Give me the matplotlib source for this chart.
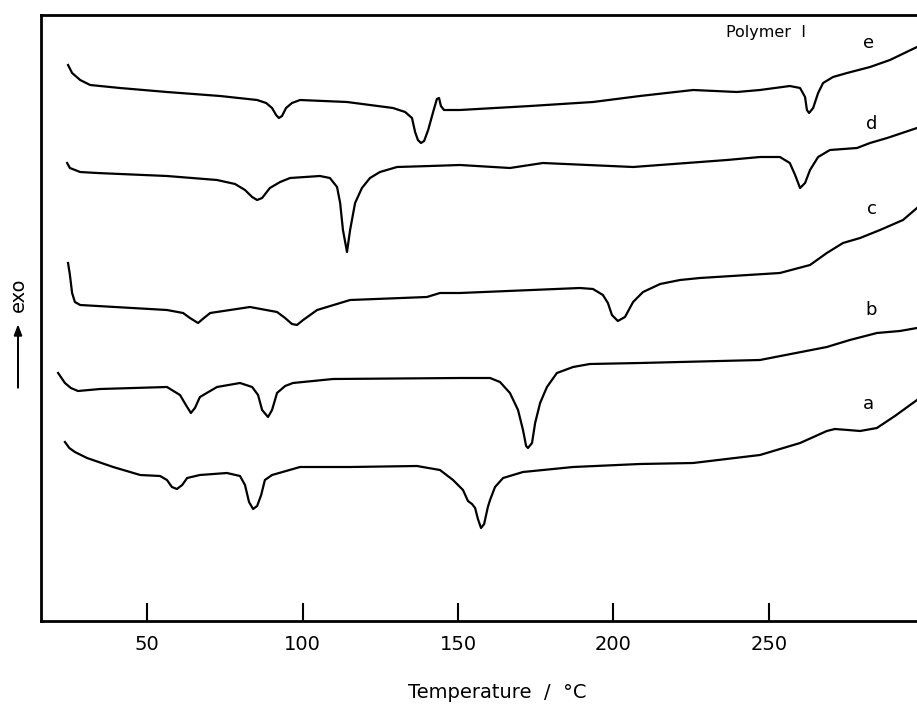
import numpy as np
import matplotlib
matplotlib.use('Agg')
import matplotlib.pyplot as plt

# DSC curves of Polymer I (temperature in °C, signal in arbitrary units)
T_a = [23.6, 25.0, 26.8, 30.7, 39.1, 47.8, 54.2, 56.4, 58.0, 59.6, 61.3, 62.9, 67.0, 75.7, 79.9, 81.5, 82.8,
       84.1, 85.4, 86.7, 87.9, 90.2, 99.2, 115.3, 136.8, 144.2, 148.4, 151.6, 153.2, 154.5, 155.5, 156.4,
       157.4, 158.4, 159.6, 160.3, 161.9, 164.5, 170.9, 187.0, 208.5, 225.6, 247.1, 260.0, 268.6, 271.2,
       275.4, 279.3, 284.7, 290.5, 297.6]
s_a = [179, 173, 169, 163, 154, 146, 145, 141, 134, 132, 136, 143, 146, 148, 145, 136, 119,
       112, 115, 126, 141, 146, 154, 154, 155, 151, 141, 131, 120, 117, 113, 102,
       93, 97, 114, 121, 134, 143, 149, 154, 157, 158, 166, 178, 190, 192,
       191, 190, 193, 205, 221]

T_b = [21.4, 23.6, 25.5, 27.8, 34.9, 56.4, 60.6, 62.5, 64.1, 65.4, 67.0, 72.5, 79.9, 83.8, 85.7, 87.0, 88.9,
       90.2, 91.8, 94.4, 96.9, 109.8, 150.6, 160.3, 163.5, 166.7, 169.3, 170.9, 171.9, 172.5, 173.8,
       174.8, 176.4, 178.6, 181.8, 187.0, 192.4, 208.5, 247.1, 268.6, 276.0, 284.7, 292.1, 297.6]
s_b = [248, 238, 233, 230, 232, 234, 226, 216, 208, 213, 224, 234, 238, 234, 226, 211, 204,
       211, 228, 235, 238, 242, 243, 243, 239, 228, 211, 191, 175, 173, 178,
       198, 218, 234, 248, 254, 257, 258, 261, 274, 281, 288, 290, 293]

T_c = [24.6, 25.2, 25.9, 26.8, 28.5, 56.4, 61.6, 63.8, 66.4, 68.3, 70.3, 83.1, 91.8, 94.4, 96.6, 98.2,
       100.2, 104.7, 115.3, 140.0, 144.2, 150.6, 189.2, 193.4, 196.6, 198.2, 199.5, 201.4, 203.7, 206.3,
       209.5, 215.0, 221.4, 227.8, 253.5, 263.2, 268.6, 273.8, 279.3, 285.7, 293.1, 297.6]
s_c = [358, 346, 328, 319, 316, 311, 308, 303, 298, 303, 308, 314, 309, 303, 297, 296,
       301, 311, 321, 324, 328, 328, 333, 332, 326, 318, 306, 300, 304, 319,
       329, 337, 341, 343, 348, 356, 368, 378, 383, 391, 401, 413]

T_d = [24.3, 25.2, 28.5, 33.9, 56.4, 72.5, 78.3, 81.5, 83.8, 85.4, 87.0, 89.5, 92.8, 96.0, 105.6, 108.8,
       111.1, 112.1, 113.0, 114.3, 115.3, 116.9, 119.1, 121.7, 124.9, 130.4, 141.0, 150.6, 166.7,
       177.3, 206.3, 236.5, 247.1, 253.5, 256.7, 258.4, 260.0, 261.6, 263.2, 265.8, 269.6, 278.3, 282.5,
       288.0, 297.6]
s_d = [458, 453, 449, 448, 445, 441, 437, 431, 424, 421, 423, 433, 439, 443, 445, 443,
       434, 418, 391, 369, 391, 418, 433, 443, 449, 454, 455, 456, 453,
       458, 454, 461, 464, 464, 458, 446, 433, 438, 451, 464, 471, 473, 478,
       483, 493]

T_e = [24.6, 25.9, 28.5, 31.7, 41.3, 56.4, 73.5, 85.4, 88.3, 90.2, 91.5, 92.4, 93.4, 94.7, 96.6, 99.2,
       114.3, 129.1, 133.0, 135.2, 136.2, 137.1, 138.1, 139.1, 140.4, 142.0, 143.2, 143.9, 144.5, 145.5,
       150.6, 173.2, 193.4, 208.5, 225.6, 239.7, 247.1, 256.7, 260.0, 261.6, 262.2, 262.9, 264.2, 265.8,
       267.4, 270.6, 275.1, 282.5, 288.9, 297.6]
s_e = [556, 548, 541, 536, 533, 529, 525, 521, 518, 513, 506, 503, 505, 513, 518, 521,
       519, 513, 509, 503, 489, 481, 478, 480, 491, 509, 522, 523, 515, 511,
       511, 515, 519, 525, 531, 529, 531, 535, 533, 524, 511, 508, 513, 528,
       538, 544, 548, 554, 561, 574]

curves = [(T_a, s_a), (T_b, s_b), (T_c, s_c), (T_d, s_d), (T_e, s_e)]
labels = ['a', 'b', 'c', 'd', 'e']
label_pos = [(282, 217), (283, 311), (283, 412), (283, 497), (282, 578)]

fig = plt.figure(figsize=(9.17, 7.04), dpi=100)
ax = fig.add_axes([41/917, 83/704, 1 - 41/917, 606/704])

for T, s in curves:
    ax.plot(T, s, color='black', linewidth=1.6, solid_joinstyle='round')

for lab, (tx, ty) in zip(labels, label_pos):
    ax.text(tx, ty, lab, fontsize=13, ha='center', va='center')

ax.text(249, 589, 'Polymer  I', fontsize=11.5, ha='center', va='center')

ax.set_xlim(15.9, 297.6)
ax.set_ylim(0, 606)
ax.set_xticks([50, 100, 150, 200, 250])
ax.set_yticks([])
ax.tick_params(axis='x', direction='in', length=13, width=1.5, pad=10, labelsize=14)
for sp in ['left', 'bottom', 'top']:
    ax.spines[sp].set_linewidth(2)
ax.spines['right'].set_visible(False)

fig.text(497/917, 12/704, 'Temperature  /  °C', fontsize=14, ha='center', va='center')
fig.text(18/917, 409/704, 'exo', fontsize=14, rotation=90, ha='center', va='center')
fig.patches.append(matplotlib.patches.FancyArrow(18/917, 316/704, 0, 52/704, width=0.0005,
                                                 head_width=0.008, head_length=0.014,
                                                 color='black', transform=fig.transFigure))

fig.savefig('out.png', dpi=100)
